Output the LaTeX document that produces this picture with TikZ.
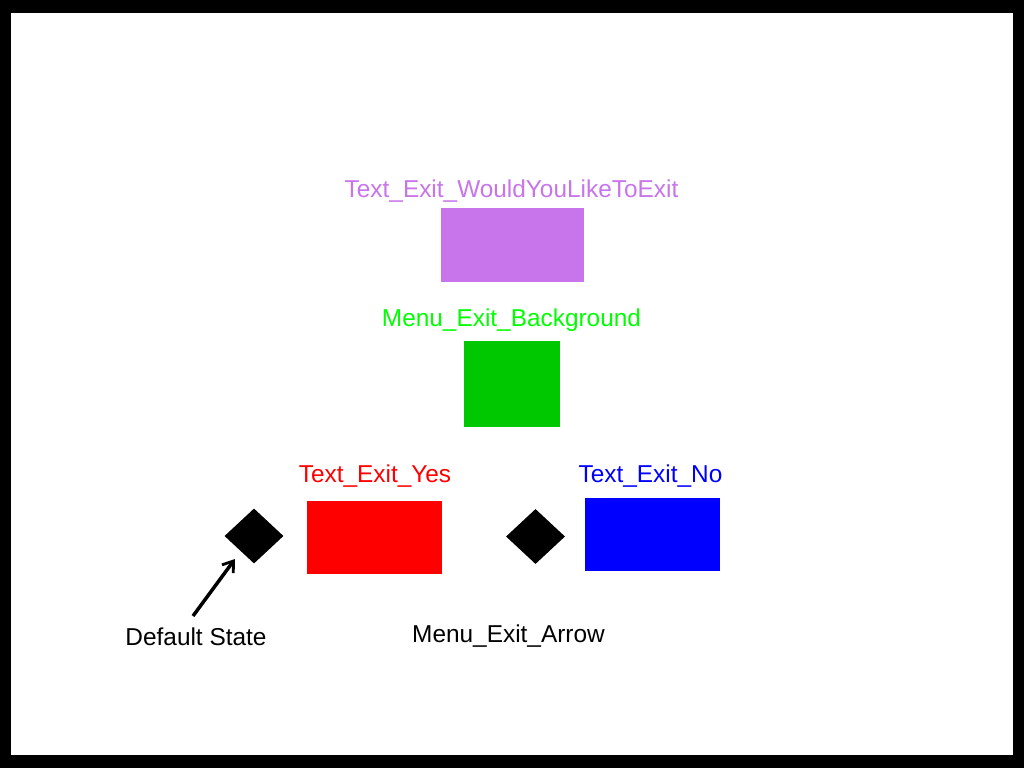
\documentclass[tikz,border=0pt]{standalone}
\usepackage{fontspec}
\setmainfont{Liberation Sans}
\usetikzlibrary{shapes.geometric,arrows.meta}
\definecolor{cpurple}{HTML}{C875EB}
\definecolor{cgreenT}{HTML}{00FF00}
\definecolor{cgreenR}{HTML}{00C800}
\definecolor{cred}{HTML}{FF0000}
\definecolor{cblue}{HTML}{0000FF}
\begin{document}
\begin{tikzpicture}[x=1pt,y=-1pt,
  lbl/.style={anchor=base,inner sep=0pt,font=\fontsize{24.4}{28}\selectfont},
  box/.style={draw=none,inner sep=0pt,anchor=north west},
  dmd/.style={diamond,fill=black,inner sep=0pt,minimum width=59pt,minimum height=55pt}]
\useasboundingbox (0,0) rectangle (1024,768);
\fill[black] (0,0) rectangle (1024,768);
\fill[white] (11,13) rectangle (1013,755);
% purple
\node[lbl,text=cpurple] (lp) at (511.5,197) {Text\_Exit\_WouldYouLikeToExit};
\node[box,fill=cpurple,minimum width=143pt,minimum height=74pt] (rp) at (441,208) {};
% green
\node[lbl,text=cgreenT] (lg) at (511.5,326) {Menu\_Exit\_Background};
\node[box,fill=cgreenR,minimum width=96pt,minimum height=86pt] (rg) at (464,341) {};
% red
\node[lbl,text=cred] (ly) at (375,482) {Text\_Exit\_Yes};
\node[box,fill=cred,minimum width=135pt,minimum height=73pt] (ry) at (307,501) {};
% blue
\node[lbl,text=cblue] (ln) at (650.5,482) {Text\_Exit\_No};
\node[box,fill=cblue,minimum width=135pt,minimum height=73pt] (rn) at (585,498) {};
% diamonds
\node[dmd] (d1) at (254,536) {};
\node[dmd] (d2) at (535.5,536.5) {};
% labels
\node[lbl,text=black] (ld) at (196,645) {Default State};
\node[lbl,text=black] (la) at (508.5,642) {Menu\_Exit\_Arrow};
% arrow
\coordinate (atail) at (193,616);
\coordinate (ahead) at (235,559);
\draw[line width=3.5pt,-{Straight Barb[length=10pt,width=14pt,line width=2.8pt]}] (atail) -- (ahead);
\end{tikzpicture}
\end{document}
